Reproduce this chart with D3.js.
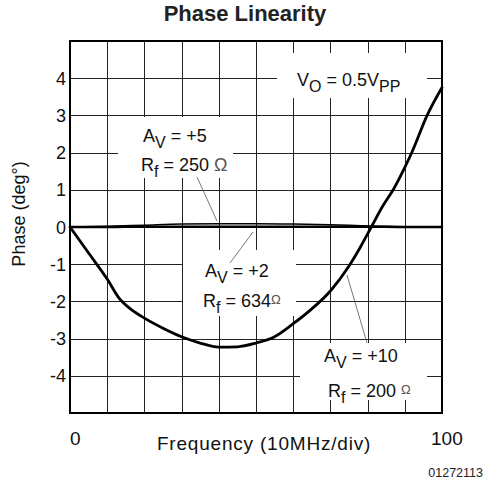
<!DOCTYPE html>
<html>
<head>
<meta charset="utf-8">
<script src="https://cdn.jsdelivr.net/npm/d3@7"></script>
<style>
  body { margin: 0; background: #fff; }
  svg { display: block; font-family: "Liberation Sans", Arial, sans-serif; }
  .grid line { stroke: #222; stroke-width: 1; shape-rendering: crispEdges; }
  .curve { fill: none; stroke: #000; stroke-linejoin: round; stroke-linecap: round; }
  .pointer { stroke: #555; stroke-width: 0.8; }
  .lbl { font-size: 18px; fill: #111; }
</style>
</head>
<body>
<svg id="chart" width="486" height="486"></svg>
<script>
// Phase linearity chart

// x: frequency (0..100 MHz, 10 MHz/div), y: phase in degrees
const xTicks = [0, 10, 20, 30, 40, 50, 60, 70, 80, 90, 100];
const yTicks = [-5, -4, -3, -2, -1, 0, 1, 2, 3, 4, 5];
const yTickLabels = ["4", "3", "2", "1", "0", "-1", "-2", "-3", "-4"];

// Av = +10, Rf = 200 ohm
const freqAv10 = [0, 5, 10, 13.4, 16, 20, 25, 30, 35, 40, 45, 50, 55, 60, 65, 70, 75, 78, 81, 84, 87, 90, 92, 96, 100];
const phaseAv10 = [0, -0.7, -1.4, -1.94, -2.18, -2.45, -2.72, -2.95, -3.12, -3.23, -3.22, -3.12, -2.95, -2.6, -2.2, -1.72, -1.05, -0.55, 0, 0.55, 1.02, 1.6, 2.03, 3.0, 3.75];

// Av = +5, Rf = 250 ohm  and  Av = +2, Rf = 634 ohm (both hug zero)
const freqFlat = [0, 10, 20, 30, 40, 50, 60, 70, 80, 90, 100];
const phaseAv5 = [0, 0.02, 0.05, 0.08, 0.09, 0.09, 0.08, 0.06, 0.03, 0.01, 0];
const phaseAv2 = [0, 0, 0.01, 0.01, 0.01, 0.01, 0.01, 0.01, 0.01, 0, 0];

const svg = d3.select("#chart");
const plotL = 70, plotR = 442, plotT = 41, plotB = 413;

const x = d3.scaleLinear().domain([0, 100]).range([plotL, plotR]);
const y = d3.scaleLinear().domain([-5, 5]).range([plotB, plotT]);

// title
svg.append("text")
    .attr("x", 245).attr("y", 21)
    .attr("text-anchor", "middle")
    .style("font-size", "22px").style("font-weight", "bold").style("fill", "#222")
    .text("Phase Linearity");

// grid
const grid = svg.append("g").attr("class", "grid");
grid.selectAll(".v").data(xTicks.slice(1, -1)).enter().append("line")
    .attr("x1", d => Math.round(x(d)) + 0.5).attr("x2", d => Math.round(x(d)) + 0.5)
    .attr("y1", plotT).attr("y2", plotB);
grid.selectAll(".h").data(yTicks.slice(1, -1)).enter().append("line")
    .attr("y1", d => Math.round(y(d)) + 0.5).attr("y2", d => Math.round(y(d)) + 0.5)
    .attr("x1", plotL).attr("x2", plotR);

// white boxes behind the annotations (they cut the grid)
const boxes = [
    [277, 53, 150, 45],
    [118, 117, 115, 61],
    [183, 250, 113, 66],
    [300, 343, 127, 57]
];
svg.selectAll(".box").data(boxes).enter().append("rect")
    .attr("x", d => d[0]).attr("y", d => d[1])
    .attr("width", d => d[2]).attr("height", d => d[3])
    .attr("fill", "#fff");

// frame
svg.append("rect")
    .attr("x", plotL).attr("y", plotT)
    .attr("width", plotR - plotL).attr("height", plotB - plotT)
    .attr("fill", "none").attr("stroke", "#000").attr("stroke-width", 2);

// curves
const line = d3.line().curve(d3.curveMonotoneX);
function drawCurve(fs, ps, w) {
    svg.append("path")
        .attr("class", "curve")
        .attr("stroke-width", w)
        .attr("d", line(fs.map((f, i) => [x(f), y(ps[i])])));
}
drawCurve(freqFlat, phaseAv5, 1.5);
drawCurve(freqFlat, phaseAv2, 2.5);
drawCurve(freqAv10, phaseAv10, 2.8);

// pointer lines
const pointers = [
    [197, 177, 217, 221],
    [230, 263, 253, 232],
    [367, 343, 347, 275]
];
svg.selectAll(".pointer").data(pointers).enter().append("line")
    .attr("class", "pointer")
    .attr("x1", d => d[0]).attr("y1", d => d[1])
    .attr("x2", d => d[2]).attr("y2", d => d[3]);

// tick labels
svg.selectAll(".ytl").data(yTickLabels).enter().append("text")
    .attr("class", "lbl")
    .attr("x", 66)
    .attr("y", d => y(+d) + 6.5)
    .attr("text-anchor", "end")
    .text(d => d);
svg.append("text").attr("class", "lbl").attr("x", 70).attr("y", 445).style("font-size", "19px").text("0");
svg.append("text").attr("class", "lbl").attr("x", 431).attr("y", 445).style("font-size", "19px").text("100");

// axis titles
svg.append("text").attr("class", "lbl")
    .attr("x", 264).attr("y", 450).attr("text-anchor", "middle")
    .style("font-size", "19px").style("letter-spacing", "0.8px")
    .text("Frequency (10MHz/div)");
svg.append("text").attr("class", "lbl")
    .attr("transform", "translate(25,214) rotate(-90)")
    .attr("text-anchor", "middle")
    .text("Phase (deg°)");

svg.append("text")
    .attr("x", 483).attr("y", 477).attr("text-anchor", "end")
    .style("font-size", "12.5px").style("fill", "#222")
    .text("01272113");

// annotations: list of [text, kind] segments, kind: n normal, s subscript, o small ohm
function label(xp, yp, segs) {
    const t = svg.append("text").attr("class", "lbl").attr("x", xp).attr("y", yp);
    let shift = 0;
    segs.forEach(([txt, kind]) => {
        const target = kind === "s" ? 6 : kind === "o" ? -3 : 0;
        const ts = t.append("tspan").attr("dy", target - shift).text(txt);
        shift = target;
        if (kind === "s") ts.style("font-size", "16px");
        if (kind === "o") ts.style("font-size", "13px").style("fill", "#555");
        if (kind === "O") ts.style("fill", "#555");
    });
}
label(297, 86, [["V", "n"], ["O", "s"], [" = 0.5V", "n"], ["PP", "s"]]);

label(143, 142, [["A", "n"], ["V", "s"], [" = +5", "n"]]);
label(141, 171, [["R", "n"], ["f", "s"], [" = 250 ", "n"], ["Ω", "O"]]);

label(205, 277, [["A", "n"], ["V", "s"], [" = +2", "n"]]);
label(203, 307, [["R", "n"], ["f", "s"], [" = 634", "n"], ["Ω", "o"]]);

label(324, 362, [["A", "n"], ["V", "s"], [" = +10", "n"]]);
label(328, 397, [["R", "n"], ["f", "s"], [" = 200 ", "n"], ["Ω", "o"]]);
</script>
</body>
</html>
